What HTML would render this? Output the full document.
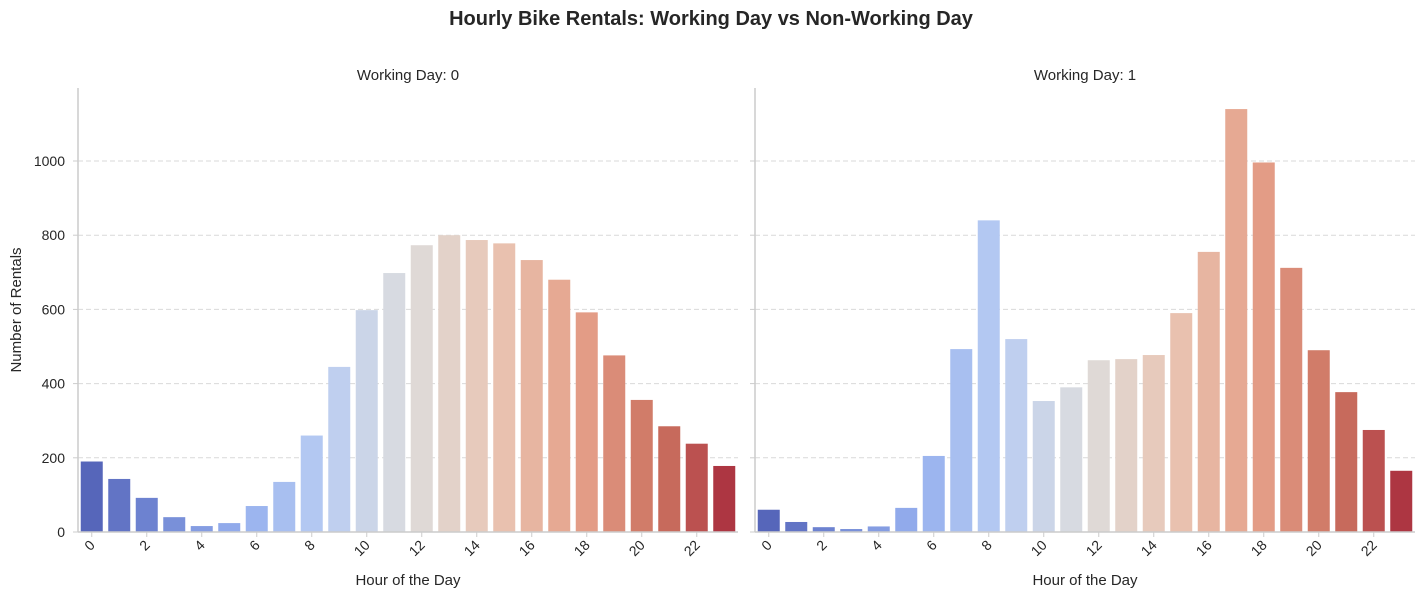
<!DOCTYPE html>
<html><head><meta charset="utf-8">
<style>
body{margin:0;background:#fff;font-family:"Liberation Sans","DejaVu Sans",sans-serif;}
svg text{font-family:"Liberation Sans","DejaVu Sans",sans-serif;fill:#262626;}
</style></head>
<body>
<svg id="chart" width="1423" height="598" viewBox="0 0 1423 598" xmlns="http://www.w3.org/2000/svg">
<text x="711" y="25" text-anchor="middle" font-size="20" font-weight="bold">Hourly Bike Rentals: Working Day vs Non-Working Day</text>
</svg>
<script>
const hours = [0,1,2,3,4,5,6,7,8,9,10,11,12,13,14,15,16,17,18,19,20,21,22,23];
const nonWorking = [190,143,92,40,16,24,70,135,260,445,598,698,773,800,787,778,733,680,592,476,356,285,238,178];
const working = [60,27,13,8,15,65,205,493,840,520,353,390,463,466,477,590,755,1140,996,712,490,377,275,165];
const yTicks = [0,200,400,600,800,1000];
const xTickLabels = [0,2,4,6,8,10,12,14,16,18,20,22];

const svg = document.getElementById('chart');
const NS = 'http://www.w3.org/2000/svg';
function mk(tag, attrs){const e=document.createElementNS(NS,tag);for(const k in attrs)e.setAttribute(k,attrs[k]);return e;}

const y0=532, yTop=88;
function yScale(v){return y0 - v*0.371;}

const anchors=[[58,76,192],[94,123,226],[133,167,252],[173,201,253],[221,221,221],[242,194,171],[244,152,122],[219,97,75],[180,4,38]];
function coolwarm(t){const p=t*8;const i=Math.min(7,Math.floor(p));const f=p-i;const a=anchors[i],b=anchors[i+1];return a.map((v,k)=>v+(b[k]-v)*f);}
function desat(rgb,s){let [r,g,b]=rgb.map(v=>v/255);const mx=Math.max(r,g,b),mn=Math.min(r,g,b);let l=(mx+mn)/2,h=0,sat=0;
 if(mx!==mn){const d=mx-mn;sat=l>0.5?d/(2-mx-mn):d/(mx+mn);
  if(mx===r)h=((g-b)/d+(g<b?6:0));else if(mx===g)h=(b-r)/d+2;else h=(r-g)/d+4;h/=6;}
 sat*=s;const q=l<0.5?l*(1+sat):l+sat-l*sat,pp=2*l-q;
 function hue(t){if(t<0)t+=1;if(t>1)t-=1;if(t<1/6)return pp+(q-pp)*6*t;if(t<1/2)return q;if(t<2/3)return pp+(q-pp)*(2/3-t)*6;return pp;}
 if(sat===0)return `rgb(${l*255},${l*255},${l*255})`;
 return `rgb(${Math.round(hue(h+1/3)*255)},${Math.round(hue(h)*255)},${Math.round(hue(h-1/3)*255)})`;}

function panel(x0,x1,values,title,showY,idx){
  const g=mk('g',{});
  
  
  svg.appendChild(g);
  const n=hours.length, step=(x1-x0)/n;
  const xScale=h=>x0+step*(hours.indexOf(h)+0.5);
  yTicks.forEach(t=>{
    if(t>0){const ln=mk('line',{x1:x0,x2:x1,y1:yScale(t),y2:yScale(t),stroke:'#d9d9d9','stroke-dasharray':'5,3','stroke-width':1});
      g.appendChild(ln);}
    const tk=mk('line',{x1:x0-5,x2:x0,y1:yScale(t),y2:yScale(t),stroke:'#ccc'});g.appendChild(tk);
    if(showY){const tx=mk('text',{x:x0-13,y:yScale(t)+5,'text-anchor':'end','font-size':14});tx.textContent=t;
      g.appendChild(tx);}
  });
  values.forEach((v,i)=>{
    const c=desat(coolwarm((i+1)/(n+1)),0.75);
    const bw=step*0.8;
    const r=mk('rect',{x:xScale(hours[i])-bw/2,y:yScale(v),width:bw,height:y0-yScale(v),fill:c});
    
    
    g.appendChild(r);
  });
  xTickLabels.forEach(h=>{
    const cx=xScale(h);
    g.appendChild(mk('line',{x1:cx,x2:cx,y1:y0,y2:y0+5,stroke:'#ccc'}));
    const tx=mk('text',{x:cx+4,y:y0+14,'text-anchor':'end','font-size':14,transform:`rotate(-45 ${cx+4} ${y0+14})`});
    tx.textContent=h;
    
    
    g.appendChild(tx);
  });
  g.appendChild(mk('line',{x1:x0,x2:x0,y1:yTop,y2:y0,stroke:'#ccc','stroke-width':1.5}));
  g.appendChild(mk('line',{x1:x0,x2:x1,y1:y0,y2:y0,stroke:'#ccc','stroke-width':1.5}));
  const st=mk('text',{x:(x0+x1)/2,y:80,'text-anchor':'middle','font-size':15});st.textContent=title;
  g.appendChild(st);
  const xl=mk('text',{x:(x0+x1)/2,y:585,'text-anchor':'middle','font-size':15});xl.textContent='Hour of the Day';
  g.appendChild(xl);
}
panel(78,738,nonWorking,'Working Day: 0',true,0);
panel(755,1415,working,'Working Day: 1',false,1);
const yl=mk('text',{x:21,y:310,'text-anchor':'middle','font-size':15,transform:'rotate(-90 21 310)'});
yl.textContent='Number of Rentals';


svg.appendChild(yl);
</script>
</body></html>
